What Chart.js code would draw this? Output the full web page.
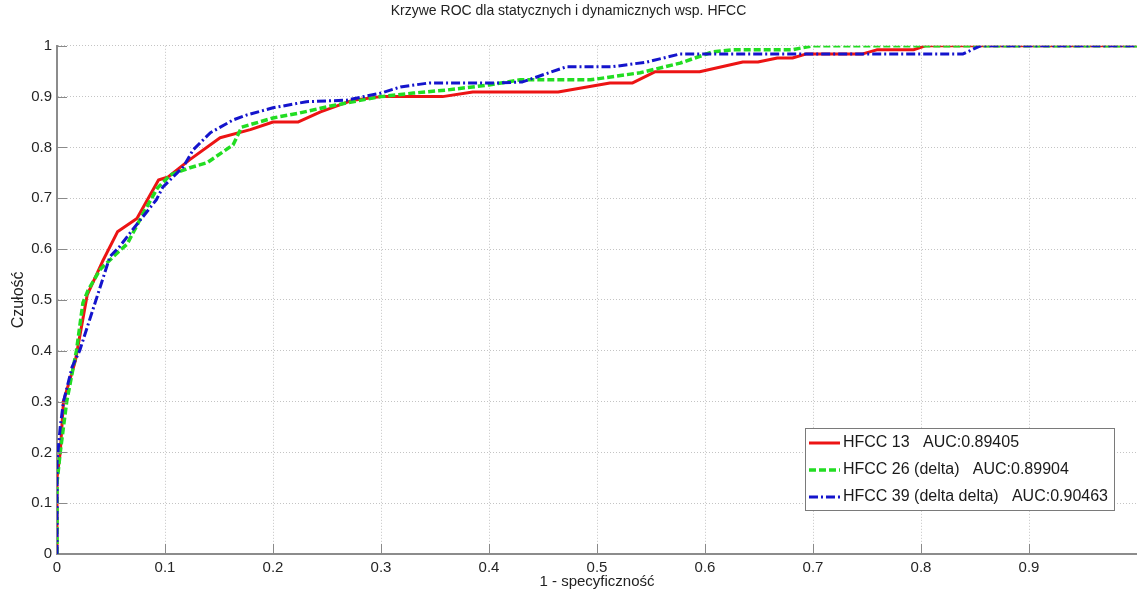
<!DOCTYPE html>
<html>
<head>
<meta charset="utf-8">
<script src="https://cdn.jsdelivr.net/npm/chart.js@4.4.1/dist/chart.umd.min.js"></script>
<style>
  body { margin: 0; background: #fff; }
  #wrap { width: 1137px; height: 592px; }
</style>
</head>
<body>
<div id="wrap"><canvas id="rocChart"></canvas></div>
<script>
// ROC curves: x = 1 - specificity, y = sensitivity
const fpr13 = [0, 0, 0.003, 0.006, 0.017, 0.028, 0.042, 0.056, 0.074, 0.094, 0.103, 0.123, 0.151, 0.179, 0.2, 0.223, 0.244, 0.274, 0.3, 0.357, 0.385, 0.464, 0.512, 0.533, 0.554, 0.595, 0.635, 0.649, 0.667, 0.681, 0.694, 0.746, 0.759, 0.793, 0.804, 1];
const tpr13 = [0, 0.15, 0.2, 0.3, 0.38, 0.51, 0.575, 0.634, 0.66, 0.736, 0.742, 0.776, 0.819, 0.835, 0.85, 0.85, 0.87, 0.893, 0.9, 0.9, 0.909, 0.909, 0.927, 0.927, 0.949, 0.949, 0.968, 0.968, 0.976, 0.976, 0.984, 0.984, 0.992, 0.992, 1, 1];

const fpr26 = [0, 0, 0.003, 0.009, 0.018, 0.024, 0.029, 0.04, 0.057, 0.065, 0.08, 0.093, 0.105, 0.123, 0.139, 0.163, 0.171, 0.2, 0.225, 0.25, 0.274, 0.3, 0.33, 0.361, 0.4, 0.429, 0.494, 0.54, 0.577, 0.607, 0.626, 0.68, 0.7, 1];
const tpr26 = [0, 0.14, 0.2, 0.3, 0.4, 0.494, 0.52, 0.56, 0.595, 0.61, 0.671, 0.72, 0.746, 0.76, 0.77, 0.805, 0.84, 0.858, 0.868, 0.88, 0.89, 0.9, 0.907, 0.913, 0.923, 0.933, 0.933, 0.947, 0.966, 0.988, 0.992, 0.992, 1, 1];

const fpr39 = [0, 0, 0.003, 0.006, 0.014, 0.021, 0.034, 0.049, 0.058, 0.07, 0.092, 0.098, 0.117, 0.126, 0.142, 0.163, 0.176, 0.2, 0.231, 0.268, 0.3, 0.318, 0.345, 0.41, 0.431, 0.472, 0.515, 0.546, 0.577, 0.839, 0.855, 1];
const tpr39 = [0, 0.18, 0.25, 0.3, 0.368, 0.4, 0.486, 0.585, 0.605, 0.638, 0.697, 0.722, 0.762, 0.795, 0.829, 0.854, 0.864, 0.878, 0.89, 0.893, 0.907, 0.919, 0.927, 0.927, 0.929, 0.959, 0.959, 0.968, 0.984, 0.984, 1, 1];

const seriesNames = ["HFCC 13   AUC:0.89405", "HFCC 26 (delta)   AUC:0.89904", "HFCC 39 (delta delta)   AUC:0.90463"];

const FONT = "'Liberation Sans', Arial, sans-serif";

function toPoints(xs, ys) {
  return xs.map((x, i) => ({ x: x, y: ys[i] }));
}

// little inward tick marks, like the matlab axes
const innerTicks = {
  id: 'innerTicks',
  afterDraw(chart) {
    const ctx = chart.ctx;
    const xs = chart.scales.x, ys = chart.scales.y;
    const area = chart.chartArea;
    ctx.save();
    ctx.strokeStyle = '#8a8a8a';
    ctx.lineWidth = 1;
    ctx.beginPath();
    xs.ticks.forEach(t => {
      if (t.value <= 0 || t.value >= 1) return;
      const px = Math.round(xs.getPixelForValue(t.value)) + 0.5;
      ctx.moveTo(px, area.bottom);
      ctx.lineTo(px, area.bottom - 10);
    });
    ys.ticks.forEach(t => {
      if (t.value <= 0) return;
      const py = Math.round(ys.getPixelForValue(t.value)) + 0.5;
      ctx.moveTo(area.left, py);
      ctx.lineTo(area.left + 10, py);
    });
    ctx.stroke();
    ctx.restore();
  }
};

// legend box in the lower right corner
const boxLegend = {
  id: 'boxLegend',
  afterDraw(chart) {
    const ctx = chart.ctx;
    const area = chart.chartArea;
    const sets = chart.data.datasets;
    ctx.save();
    ctx.font = '16px ' + FONT;
    let maxW = 0;
    sets.forEach(d => { maxW = Math.max(maxW, ctx.measureText(d.label).width); });
    const rowH = 27;
    const w = 4 + 31 + 3 + maxW + 6;
    const h = rowH * sets.length + 1;
    const right = area.right - 23;
    const bottom = area.bottom - 44;
    const left = right - w, top = bottom - h;
    ctx.fillStyle = '#fff';
    ctx.fillRect(left, top, w, h);
    ctx.strokeStyle = '#7a7a7a';
    ctx.lineWidth = 1;
    ctx.strokeRect(Math.round(left) + 0.5, Math.round(top) + 0.5, Math.round(w), Math.round(h));
    sets.forEach((d, i) => {
      const cy = top + 15 + i * rowH;
      ctx.strokeStyle = d.borderColor;
      ctx.lineWidth = d.borderWidth;
      ctx.setLineDash(d.borderDash || []);
      ctx.beginPath();
      ctx.moveTo(left + 4, cy);
      ctx.lineTo(left + 35, cy);
      ctx.stroke();
      ctx.setLineDash([]);
      ctx.fillStyle = '#1a1a1a';
      ctx.textBaseline = 'middle';
      ctx.fillText(d.label, left + 38, cy);
    });
    ctx.restore();
  }
};

const rocChart = new Chart("rocChart", {
  type: "line",
  data: {
    datasets: [{
      label: seriesNames[0],
      data: toPoints(fpr13, tpr13),
      borderColor: "#ec1414",
      borderWidth: 3,
      order: 2
    }, {
      label: seriesNames[1],
      data: toPoints(fpr26, tpr26),
      borderColor: "#22dd22",
      borderWidth: 3.5,
      borderDash: [7, 3],
      order: 1
    }, {
      label: seriesNames[2],
      data: toPoints(fpr39, tpr39),
      borderColor: "#1414cc",
      borderWidth: 3,
      borderDash: [9, 3, 2, 3],
      order: 0
    }]
  },
  options: {
    responsive: true,
    maintainAspectRatio: false,
    animation: false,
    elements: {
      point: { radius: 0 },
      line: { tension: 0, fill: false, borderCapStyle: 'butt', borderJoinStyle: 'round' }
    },
    layout: { padding: 0, autoPadding: false },
    plugins: {
      legend: { display: false },
      tooltip: { enabled: false },
      title: {
        display: true,
        text: "Krzywe ROC dla statycznych i dynamicznych wsp. HFCC",
        color: "#222",
        font: { family: FONT, size: 14, weight: 'normal' },
        padding: { top: 3, bottom: 26 }
      }
    },
    scales: {
      x: {
        type: "linear",
        min: 0,
        max: 1,
        afterFit: s => { s.height = 38; s.paddingRight = 0; s.paddingLeft = 0; },
        ticks: {
          stepSize: 0.1,
          autoSkip: false,
          maxRotation: 0,
          padding: 5,
          color: "#262626",
          font: { family: FONT, size: 15 },
          callback: v => (v >= 1 ? "" : String(Number(v.toFixed(1))))
        },
        grid: { color: "#c4c4c4", drawTicks: false },
        border: { color: "#8c8c8c", width: 2, dash: [1, 2] },
        title: {
          display: true,
          text: "1 - specyficzność",
          color: "#222",
          font: { family: FONT, size: 15 },
          padding: { top: 0, bottom: 1 }
        }
      },
      y: {
        type: "linear",
        min: 0,
        max: 1,
        afterFit: s => { s.width = 57; s.paddingTop = 0; s.paddingBottom = 0; },
        ticks: {
          stepSize: 0.1,
          padding: 5,
          color: "#262626",
          font: { family: FONT, size: 15 },
          callback: v => String(Number(v.toFixed(1)))
        },
        grid: { color: "#c4c4c4", drawTicks: false },
        border: { color: "#8c8c8c", width: 2, dash: [1, 2] },
        title: {
          display: true,
          text: "Czułość",
          color: "#222",
          font: { family: FONT, size: 16 },
          padding: { top: 9, bottom: 0 }
        }
      }
    }
  },
  plugins: [innerTicks, boxLegend]
});
</script>
</body>
</html>
